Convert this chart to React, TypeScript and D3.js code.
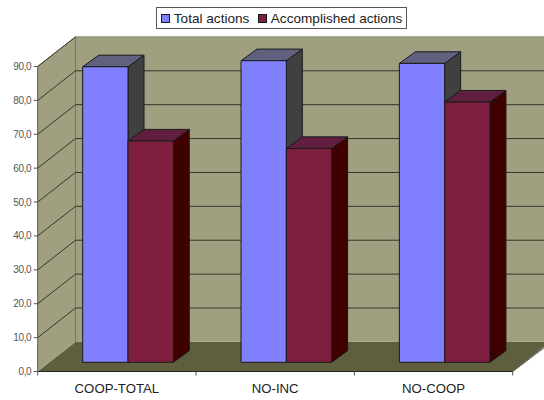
import React from "react";
import * as d3 from "d3";

const categories = ["COOP-TOTAL", "NO-INC", "NO-COOP"];
const seriesNames = ["Total actions", "Accomplished actions"];
const totalActions = [87.2, 89.0, 88.2];
const accomplishedActions = [65.3, 63.1, 76.8];
const yTicks = [0, 10, 20, 30, 40, 50, 60, 70, 80, 90];

const faces = [
  { front: "#8080ff", top: "#60607f", side: "#404040" },
  { front: "#7f1f3f", top: "#601f3f", side: "#3f0000" },
];

const x0 = 37.7, x1 = 512.7, yFront0 = 371.5, yFront90 = 66.5;
const wallDx = 37.8, wallDy = -29.6;
const barDx = 16, barDy = -11.6, barPlaneDy = -9.2;
const INK = "#1a1a1a";

export default function App() {
  const y = d3.scaleLinear().domain([0, 90]).range([yFront0, yFront90]);
  const x = d3.scaleBand<string>().domain(categories).range([x0, x1]);
  const inner = d3.scaleBand<number>().domain([0, 1]).range([45, 135.6]);
  const line = d3.line();
  const poly = (pts: [number, number][]) => line(pts) + "Z";
  const series = [totalActions, accomplishedActions];
  const yBack0 = yFront0 + wallDy, yBack90 = yFront90 + wallDy;
  const xBack = x0 + wallDx;
  const sans = "'Liberation Sans', Arial, sans-serif";

  return (
    <svg width={544} height={400} style={{ position: "absolute", left: 0, top: 0 }} fontFamily={sans}>
      <rect width={544} height={400} fill="#fff" />
      {/* walls */}
      <rect x={xBack} y={yBack90} width={544 - xBack} height={yBack0 - yBack90} fill="#a0a080" />
      <path d={poly([[x0, yFront0], [x0, yFront90], [xBack, yBack90], [xBack, yBack0]])} fill="#a0a080" />
      <path d={poly([[x0, yFront0], [xBack, yBack0], [544, yBack0], [544, yBack0 + 5], [x1, yFront0]])} fill="#5f5f3f" />
      <path d={`M${x0},${yFront90}L${xBack},${yBack90}H544`} fill="none" stroke="#85856a" strokeWidth={1} />
      <line x1={xBack} x2={xBack} y1={yBack90} y2={yBack0} stroke="#777760" />
      {/* gridlines */}
      {yTicks.slice(1).map((t) => (
        <path
          key={t}
          d={t === 90 ? `M${x0},${y(t)}L${xBack},${y(t) + wallDy}` : `M${x0},${y(t)}L${xBack},${y(t) + wallDy}H544`}
          fill="none"
          stroke="#35352a"
          strokeWidth={1}
        />
      ))}
      {/* axes */}
      <path d={`M${x0},${yFront90}V${yFront0}H${x1}L544,${yBack0 + 6}`} fill="none" stroke="#555" />
      <line x1={x0} x2={x1} y1={yFront0} y2={yFront0} stroke="#222" />
      {yTicks.map((t) => (
        <g key={t}>
          <line x1={x0 - 4} x2={x0} y1={y(t)} y2={y(t)} stroke="#555" />
          <text x={x0 - 6.5} y={y(t)} dy="0.35em" textAnchor="end" fontSize={10} letterSpacing={-0.4} fill="#555">
            {d3.format(".1f")(t).replace(".", ",")}
          </text>
        </g>
      ))}
      {[...categories.map((c) => x(c)!), x1].map((p, i) => (
        <line key={i} x1={p} x2={p} y1={yFront0} y2={yFront0 + 4} stroke="#555" />
      ))}
      {categories.map((c) => (
        <text key={c} x={x(c)! + x.bandwidth() / 2} y={392.7} textAnchor="middle" fontSize={13.2} fill="#222">
          {c}
        </text>
      ))}
      {/* bars */}
      {categories.map((c, i) =>
        series.map((vals, s) => {
          const left = x(c)! + inner(s)!;
          const w = inner.bandwidth();
          const top = y(vals[i]) + barPlaneDy;
          const bottom = y(0) + barPlaneDy;
          const f = faces[s];
          return (
            <g key={c + s} stroke={INK} strokeWidth={1} strokeLinejoin="round">
              <path d={poly([[left + w, top], [left + w + barDx, top + barDy], [left + w + barDx, bottom + barDy], [left + w, bottom]])} fill={f.side} />
              <path d={poly([[left, top], [left + barDx, top + barDy], [left + w + barDx, top + barDy], [left + w, top]])} fill={f.top} />
              <rect x={left} y={top} width={w} height={bottom - top} fill={f.front} />
            </g>
          );
        })
      )}
      {/* legend */}
      <rect x={156.5} y={7.5} width={250} height={21} fill="#fff" stroke="#555" />
      {seriesNames.map((n, i) => {
        const lx = [161.5, 258.5][i];
        return (
          <g key={n}>
            <rect x={lx} y={14.5} width={8} height={8} fill={faces[i].front} stroke={INK} />
            <text x={lx + 12.3} y={23} fontSize={13.6} fill="#222">{n}</text>
          </g>
        );
      })}
    </svg>
  );
}
